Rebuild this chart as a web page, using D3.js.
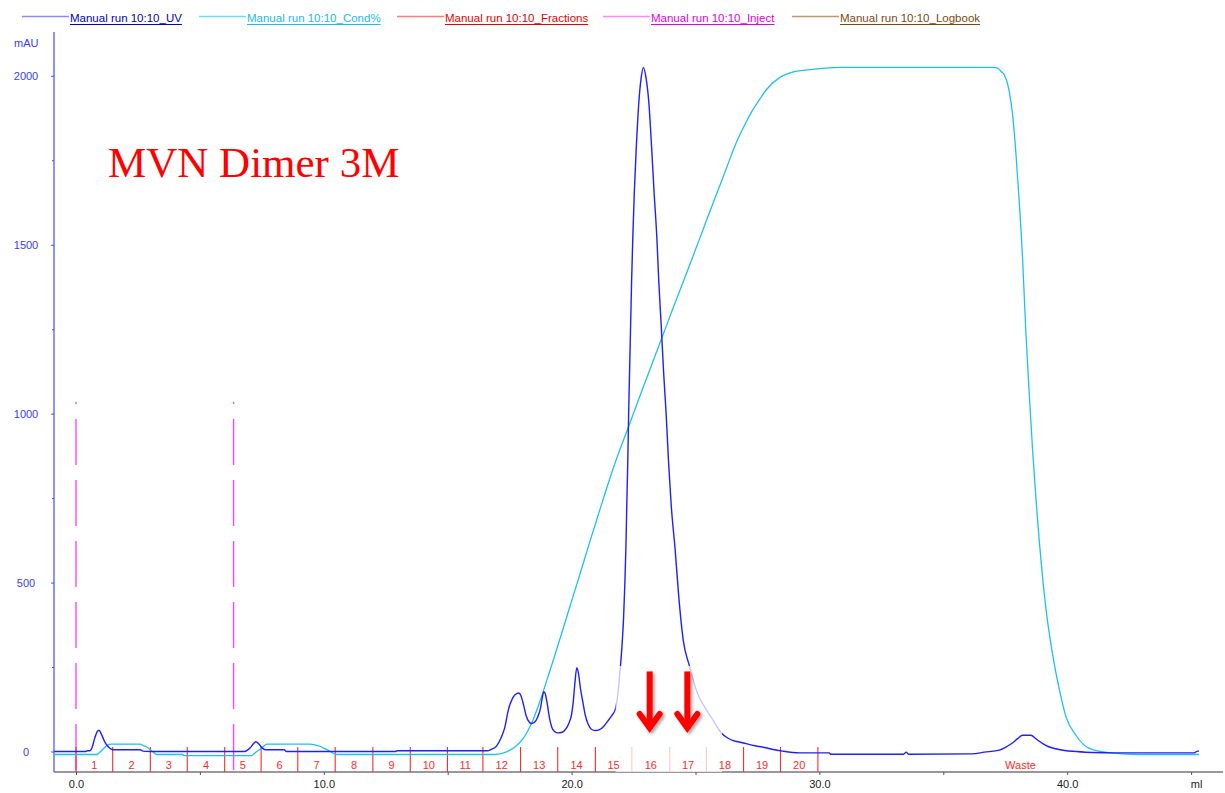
<!DOCTYPE html>
<html>
<head>
<meta charset="utf-8">
<script src="https://cdn.jsdelivr.net/npm/d3@7"></script>
<style>
  html, body { margin: 0; padding: 0; background: #fff; }
  svg { display: block; font-family: "Liberation Sans", Arial, sans-serif; }
</style>
</head>
<body>
<svg id="chart" width="1225" height="793"></svg>
<script>
// ---------------- data ----------------
const uvMl = [-0.88,0.40,0.45,0.56,0.65,0.75,0.85,0.93,1.02,1.15,1.30,1.45,1.60,2.60,2.70,3.00,
  6.80,6.90,7.02,7.15,7.26,7.38,7.52,7.68,8.40,8.50,12.90,12.95,16.60,16.75,16.97,17.15,17.30,17.45,17.62,17.80,17.87,17.96,
  18.07,18.17,18.28,18.37,18.50,18.62,18.75,18.83,18.88,18.94,19.02,19.11,19.20,19.30,19.45,19.62,19.75,19.90,
  20.00,20.07,20.13,20.21,20.28,20.36,20.46,20.55,20.66,20.80,20.95,21.13,21.30,21.46,21.62,21.77,21.85,21.92,
  21.98,22.04,22.10,22.15,22.19,22.23,22.27,22.30,22.34,22.38,22.42,22.47,22.53,22.61,22.71,22.80,22.90,23.00,
  23.12,23.23,23.33,23.44,23.52,23.62,23.71,23.82,23.91,24.02,24.18,24.32,24.50,24.76,24.96,25.15,25.36,25.69,
  26.04,26.30,26.50,26.90,27.40,27.85,28.20,28.52,29.19,30.00,30.40,30.45,33.40,33.50,33.60,36.18,36.65,37.26,
  37.55,37.80,38.00,38.20,38.53,38.75,39.00,39.25,39.54,39.90,40.35,41.00,41.96,45.12,45.26,45.32];
const uvMAU = [0,0,2,2,12,38,58,63,52,30,14,6,5,5,1,0,
  0,3,10,22,29,22,10,5,5,0,0,2,2,6,16,40,70,124,158,172,173,164,
  135,105,88,83,86,100,130,165,177,170,140,98,72,60,55,57,65,85,
  110,150,200,248,230,185,144,108,82,66,62,65,75,90,106,126,160,210,
  260,320,400,500,600,740,870,993,1126,1256,1389,1521,1654,1787,1918,1990,2025,1995,
  1918,1787,1654,1521,1389,1256,1126,993,860,729,596,462,332,252,198,160,133,95,
  55,40,33,26,17,11,5,1,-4,-4,-4,-8,-8,-2,-8,-7,-2,4,
  14,26,38,48,48,37,24,14,8,3,0,-3,-4,-4,1,1];

const condMl = [-0.88,0.83,0.95,1.10,1.25,1.41,2.58,2.72,2.85,3.00,3.12,3.25,4.30,4.35,7.10,7.15,7.32,7.49,7.69,
  9.44,9.64,9.84,10.04,10.24,10.50,16.90,17.23,17.50,17.75,18.04,18.24,18.44,18.64,18.84,19.10,19.38,19.70,
  20.05,20.40,20.73,21.13,21.50,21.90,22.31,22.76,23.20,23.66,24.10,24.76,25.16,25.43,25.80,26.10,26.37,26.64,
  27.04,27.31,27.58,27.85,28.39,28.92,29.73,30.80,36.99,37.19,37.33,37.46,37.60,37.66,37.80,37.93,38.06,38.20,
  38.33,38.47,38.60,38.74,38.87,39.00,39.14,39.40,39.68,39.95,40.35,40.89,41.83,42.90,45.32];
const condPct = [0,0,0.3,0.8,1.3,1.5,1.5,1.3,1.1,0.7,0.35,0,0,-0.15,-0.15,0,0.5,0.9,1.5,
  1.5,1.4,1.2,0.85,0.5,0,0,0.2,0.6,1.2,2.3,3.5,5.0,6.9,9.0,11.9,15.1,18.8,
  22.9,27.0,30.9,35.5,39.7,43.9,47.8,52.2,56.4,60.8,65.0,71.2,75.0,77.6,81.1,83.9,86.5,89.0,
  92.0,93.8,95.3,96.7,98.5,99.3,99.7,100,100,99.9,99.4,98.9,97.5,96.5,93.0,87.5,80.7,72.1,
  61.6,52.4,44.5,37.2,31.2,26.0,21.3,14.8,9.5,5.5,2.8,0.9,0.2,0,0];

const fractionBounds = [0.0,1.48,3.0,4.49,6.0,7.47,8.95,10.46,11.98,13.49,14.99,16.42,17.94,19.44,20.96,22.43,23.96,25.44,26.94,28.43,29.94];
const fractionLabels = ["1","2","3","4","5","6","7","8","9","10","11","12","13","14","15","16","17","18","19","20","Waste"];
const injectMarks = [0.0, 6.36];
const injectTop = 1035;

const xTickValues = [0,5,10,15,20,25,30,35,40,45];
const yTickValues = [0,250,500,750,1000,1250,1500,1750,2000];

const legendNames = ["Manual run 10:10_UV","Manual run 10:10_Cond%","Manual run 10:10_Fractions","Manual run 10:10_Inject","Manual run 10:10_Logbook"];

const arrowMl = [23.15, 24.67];
const arrowTopMAU = 237, arrowTipMAU = 55;
const highlightMl = [21.78, 26.07];
const highlightTopMAU = 253;

const titleText = "MVN Dimer 3M";

// ---------------- layout ----------------
const svg = d3.select("#chart");
const L = 54, R = 1223, T = 32, B = 772;
const x = d3.scaleLinear().domain([-0.888, (R - 76) / 24.78]).range([L, R]);
const y = d3.scaleLinear().domain([-60.7, 2129.6]).range([B, T]);
const yCond = d3.scaleLinear().domain([0, 100]).range([y(-8.9), y(2025)]);

const C = {
  uv: "#1f1fff", uvLeg: "#8a8aff", uvTxt: "#0000c8",
  cond: "#1fc0f0", condLeg: "#6fd8ff", condTxt: "#22b8ee",
  frac: "#ff2a2a", fracLeg: "#ff7a7a", fracTxt: "#e80000",
  inj: "#ff44ff", injLeg: "#ff88ff", injTxt: "#e000e0",
  log: "#c09870", logTxt: "#7a4a14"
};

const defs = svg.append("defs");
defs.append("clipPath").attr("id", "plotclip").append("rect")
  .attr("x", L).attr("y", T).attr("width", R - L).attr("height", B - T);
const f = defs.append("filter").attr("id", "shadow").attr("x", "-50%").attr("y", "-50%").attr("width", "200%").attr("height", "200%");
f.append("feDropShadow").attr("dx", 2).attr("dy", 2).attr("stdDeviation", 1.6)
  .attr("flood-color", "#000").attr("flood-opacity", 0.35);

// ---------------- legend ----------------
const legColors = [[C.uvLeg, C.uvTxt], [C.condLeg, C.condTxt], [C.fracLeg, C.fracTxt], [C.injLeg, C.injTxt], [C.log, C.logTxt]];
const legStarts = [22, 199, 397, 603, 792];
const leg = svg.append("g");
legendNames.forEach((name, i) => {
  const x0 = legStarts[i], x1 = x0 + 47;
  leg.append("line").attr("x1", x0).attr("x2", x1).attr("y1", 16.5).attr("y2", 16.5)
    .attr("stroke", legColors[i][0]).attr("stroke-width", 1.6);
  const t = leg.append("text").attr("x", x1 + 1).attr("y", 22).attr("font-size", 11.5)
    .attr("fill", legColors[i][1]).text(name);
  const w = t.node().getComputedTextLength();
  leg.append("line").attr("x1", x1 + 1).attr("x2", x1 + 1 + w).attr("y1", 24.5).attr("y2", 24.5)
    .attr("stroke", legColors[i][1]).attr("stroke-width", 1);
});

// ---------------- axes ----------------
const xAxis = d3.axisBottom(x).tickValues(xTickValues).tickSize(3).tickSizeOuter(0)
  .tickFormat(d => d === 45 ? "ml" : (d % 10 === 0 ? d.toFixed(1) : ""));
const gx = svg.append("g").attr("transform", `translate(0,${B})`).call(xAxis);
gx.select(".domain").attr("stroke", "#333").attr("d", `M${L},0H${R}`);
gx.selectAll(".tick line").attr("stroke", "#555");
gx.selectAll(".tick text").attr("font-size", 11).attr("fill", "#222").attr("dy", "0.95em")
  .attr("font-family", "Liberation Sans, Arial, sans-serif");
gx.selectAll(".tick").filter(d => d === 45).select("text").attr("dx", 5);

const yAxis = d3.axisLeft(y).tickValues(yTickValues).tickSize(3).tickSizeOuter(0)
  .tickFormat(d => d % 500 === 0 ? String(d) : "");
const gy = svg.append("g").attr("transform", `translate(${L},0)`).call(yAxis);
gy.select(".domain").attr("stroke", "#4a4aff").attr("stroke-width", 1.2).attr("d", `M0,${T}V${B}`);
gy.selectAll(".tick line").attr("stroke", "#4a4aff").attr("x2", d => d % 500 === 0 ? -3 : -2);
gy.selectAll(".tick text").attr("font-size", 11).attr("fill", "#3a3aff")
  .attr("text-anchor", "middle").attr("x", 26 - L).attr("font-family", "Liberation Sans, Arial, sans-serif");
svg.append("text").attr("x", 14).attr("y", 47).attr("font-size", 11).attr("fill", "#3a3aff").text("mAU");

// ---------------- plot ----------------
const plot = svg.append("g").attr("clip-path", "url(#plotclip)");

// inject marks
plot.selectAll(".inj").data(injectMarks).enter().append("line")
  .attr("x1", d => x(d)).attr("x2", d => x(d))
  .attr("y1", B - 2).attr("y2", y(injectTop))
  .attr("stroke", C.inj).attr("stroke-width", 1.4).attr("stroke-dasharray", "46,15");

// fraction lines
plot.selectAll(".frac").data(fractionBounds).enter().append("line")
  .attr("x1", d => x(d)).attr("x2", d => x(d)).attr("y1", B).attr("y2", B - 25)
  .attr("stroke", C.frac).attr("stroke-width", 1.1);

// cond line
const condData = condMl.map((m, i) => [m, condPct[i]]);
plot.append("path").datum(condData)
  .attr("d", d3.line().x(d => x(d[0])).y(d => yCond(d[1])).curve(d3.curveMonotoneX))
  .attr("fill", "none").attr("stroke", C.cond).attr("stroke-width", 1.3);

// UV line
const uvData = uvMl.map((m, i) => [m, uvMAU[i]]);
plot.append("path").datum(uvData)
  .attr("d", d3.line().x(d => x(d[0])).y(d => y(d[1])).curve(d3.curveMonotoneX))
  .attr("fill", "none").attr("stroke", C.uv).attr("stroke-width", 1.4);

// translucent highlight behind arrows
plot.append("rect")
  .attr("x", x(highlightMl[0])).attr("width", x(highlightMl[1]) - x(highlightMl[0]))
  .attr("y", y(highlightTopMAU)).attr("height", B - y(highlightTopMAU))
  .attr("fill", "#fff").attr("opacity", 0.75);

// fraction labels
const labelPos = fractionLabels.map((lab, i) => {
  const a = fractionBounds[i];
  const b = i + 1 < fractionBounds.length ? fractionBounds[i + 1] : x.domain()[1];
  return { lab, m: (a + b) / 2 };
});
svg.selectAll(".flab").data(labelPos).enter().append("text")
  .attr("x", d => x(d.m)).attr("y", B - 3).attr("text-anchor", "middle")
  .attr("font-size", 11).attr("fill", C.frac).text(d => d.lab);

// title
svg.append("text").attr("x", 108).attr("y", 177)
  .attr("font-family", "Liberation Serif, 'Times New Roman', serif")
  .attr("font-size", 43).attr("fill", "#ff0000").text(titleText);

// arrows
const ag = svg.append("g").attr("filter", "url(#shadow)");
arrowMl.forEach(m => {
  const cx = x(m), y0 = y(arrowTopMAU), y1 = y(arrowTipMAU);
  ag.append("line").attr("x1", cx).attr("x2", cx).attr("y1", y0).attr("y2", y1 - 4)
    .attr("stroke", "#ff0000").attr("stroke-width", 6);
  ag.append("path")
    .attr("d", `M${cx - 10},${y1 - 19}L${cx},${y1 - 5}L${cx + 10},${y1 - 19}`)
    .attr("fill", "none").attr("stroke", "#ff0000").attr("stroke-width", 6)
    .attr("stroke-linejoin", "miter").attr("stroke-linecap", "round");
});
</script>
</body>
</html>
